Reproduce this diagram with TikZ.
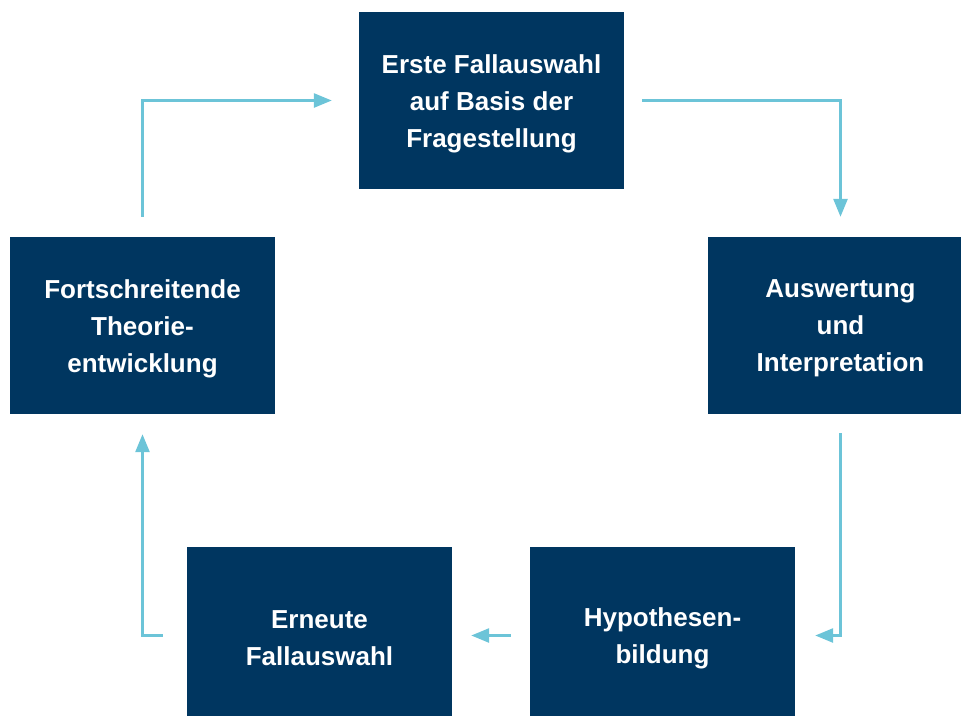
\documentclass[tikz,border=0pt]{standalone}
\usepackage{fontspec}
\setmainfont{Liberation Sans}
\usetikzlibrary{arrows.meta}
\definecolor{navy}{RGB}{0,54,96}
\definecolor{flow}{RGB}{108,196,216}
\begin{document}
\begin{tikzpicture}[x=1pt,y=-1pt,
  box/.style={fill=navy,minimum width=265pt,minimum height=177pt,inner sep=0pt},
  boxtext/.style={text=white,inner sep=0pt,align=center,font=\fontsize{26}{37}\selectfont\bfseries},
  flowline/.style={draw=flow,line width=2.7pt,-{Triangle[length=18pt,width=14pt]}}]
\useasboundingbox (0,0) rectangle (961,715);
\clip (0,0) rectangle (961,715);
\node[box] (top) at (491.5,100.5) {};
\node[box] (left) at (142.5,325.5) {};
\node[box] (right) at (840.5,325.5) {};
\node[box] (br) at (662.5,635.5) {};
\node[box] (bl) at (319.5,635.5) {};
\node[boxtext] (toptext) at ([yshift=-3pt]top.center) {Erste Fallauswahl\\auf Basis der\\Fragestellung};
\node[boxtext] (lefttext) at ([yshift=-3pt]left.center) {Fortschreitende\\Theorie-\\entwicklung};
\node[boxtext] (righttext) at ([yshift=-3pt]right.center) {Auswertung\\und\\Interpretation};
\node[boxtext] (brtext) at ([yshift=-3pt]br.center) {Hypothesen-\\bildung};
\node[boxtext] (bltext) at ([yshift=-3pt]bl.center) {Erneute\\Fallauswahl};
\draw[flowline] ([yshift=20pt]left.north) |- ([xshift=-27pt]top.west);
\draw[flowline] ([xshift=18pt]top.east) -| ([yshift=20pt]right.north);
\draw[flowline] ([yshift=-19pt]right.south) |- ([xshift=20pt]br.east);
\draw[flowline] ([xshift=-19pt]br.west) -- ([xshift=19pt]bl.east);
\draw[flowline] ([xshift=-24pt]bl.west) -| ([yshift=-20pt]left.south);
\end{tikzpicture}
\end{document}
